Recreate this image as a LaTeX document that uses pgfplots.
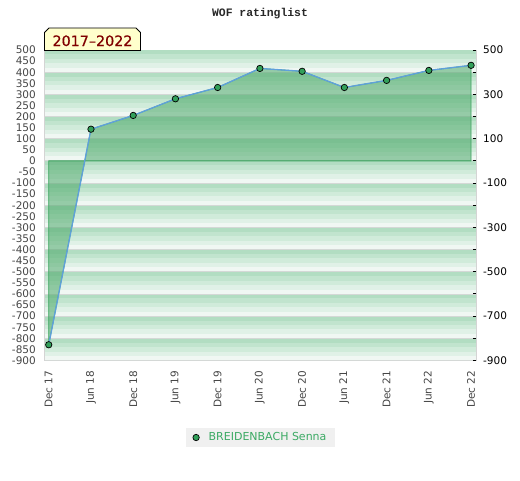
\documentclass[border=0pt]{standalone}
\usepackage{pgfplots}
\pgfplotsset{compat=1.18}
\usepackage{pgfplotstable}
\usepackage{fontspec}
\setmainfont{DejaVu Sans}
\newfontfamily\monofont{Liberation Mono}
\newfontfamily\badgefont{DejaVu Sans}[FakeBold=0.5]
\definecolor{s1}{RGB}{178,221,194}
\definecolor{s2}{RGB}{193,228,206}
\definecolor{s3}{RGB}{208,235,218}
\definecolor{s4}{RGB}{224,241,231}
\definecolor{s5}{RGB}{240,247,243}
\definecolor{bandline}{RGB}{212,216,214}
\definecolor{framegray}{RGB}{212,212,212}
\definecolor{labgray}{RGB}{70,70,70}
\definecolor{areafill}{RGB}{76,168,105}
\definecolor{areaedge}{RGB}{60,165,95}
\definecolor{linecol}{RGB}{95,160,220}
\definecolor{markgreen}{RGB}{50,160,90}
\definecolor{leggreen}{RGB}{60,170,100}
\definecolor{leggray}{RGB}{240,240,240}
\definecolor{badgeyellow}{RGB}{255,255,204}
\definecolor{darkred}{RGB}{128,0,0}
\definecolor{titlegray}{RGB}{40,40,40}
\pgfplotstableread{
x y
0 -829
6 143
12 205
18 280
24 331
30 417
36 404
42 331
48 363
54 408
60 431
}\ratings
\begin{document}
\begin{tikzpicture}[x=1pt,y=1pt]
\path[use as bounding box] (0,0) rectangle (520,-480);
\begin{axis}[
  at={(45pt,-360.5pt)}, anchor=south west, scale only axis,
  width=431pt, height=310.5pt,
  xmin=-0.53, xmax=60.7, ymin=-900, ymax=500,
  axis line style={draw=framegray, line width=1pt},
  xtick={0,6,...,60},
  xticklabels={Dec 17,Jun 18,Dec 18,Jun 19,Dec 19,Jun 20,Dec 20,Jun 21,Dec 21,Jun 22,Dec 22},
  ytick={-900,-850,...,500},
  yticklabel={\pgfmathtruncatemacro\tmp{\tick}\tmp},
  major tick length=0pt,
  xtick pos=bottom, ytick pos=left,
  xticklabel style={font=\fontsize{10.5}{12}\selectfont, text=labgray, inner sep=0pt, rotate=90, anchor=east, xshift=-10pt},
  yticklabel style={font=\fontsize{10.5}{12}\selectfont, text=labgray, inner sep=0pt, anchor=east, xshift=-9pt},
  legend style={at={(0.5,-0.248)}, anchor=center, fill=leggray, draw=none,
    font=\fontsize{11}{13}\selectfont, text=leggreen, inner xsep=7pt, inner ysep=3pt,
    /tikz/every odd column/.append style={column sep=7pt}},
  legend image code/.code={\draw[fill=markgreen, draw=black, line width=0.7pt] (0pt,0pt) circle (3.2pt);},
]
\pgfplotsinvokeforeach{-900,-800,...,400}{
  \fill[s5] (axis cs:-0.53,{#1}) rectangle (axis cs:60.7,{#1+20});
  \fill[s4] (axis cs:-0.53,{#1+20}) rectangle (axis cs:60.7,{#1+40});
  \fill[s3] (axis cs:-0.53,{#1+40}) rectangle (axis cs:60.7,{#1+60});
  \fill[s2] (axis cs:-0.53,{#1+60}) rectangle (axis cs:60.7,{#1+80});
  \fill[s1] (axis cs:-0.53,{#1+80}) rectangle (axis cs:60.7,{#1+100});
  \draw[bandline, line width=0.8pt] (axis cs:-0.53,{#1}) -- (axis cs:60.7,{#1});
}
\addplot[forget plot, draw=areaedge, line width=0.8pt, fill=areafill, fill opacity=0.55] table[x=x,y=y] {\ratings} \closedcycle;
\addplot[linecol, line width=1.3pt, mark=*, mark size=3.2pt,
  mark options={fill=markgreen, draw=black, line width=0.7pt, fill opacity=1}] table[x=x,y=y] {\ratings};
\addlegendentry{BREIDENBACH Senna}
\end{axis}
\begin{axis}[
  at={(45pt,-360.5pt)}, anchor=south west, scale only axis,
  width=431pt, height=310.5pt,
  xmin=-0.53, xmax=60.7, ymin=-900, ymax=500,
  axis x line=none, axis y line*=right,
  y axis line style={draw=none},
  ytick={-900,-800,...,500},
  yticklabels={-900,{},-700,{},-500,{},-300,{},-100,{},100,{},300,{},500},
  tick align=inside, major tick length=3pt,
  major tick style={black, line width=1pt},
  yticklabel style={font=\fontsize{10.5}{12}\selectfont, text=black, inner sep=0pt, anchor=west, xshift=7pt},
]
\addplot[draw=none] coordinates {(0,0)};
\end{axis}
\node[anchor=base, font=\monofont\bfseries\fontsize{11.4}{13}\selectfont, text=titlegray] at (260,-16.7) {WOF ratinglist};
\filldraw[fill=badgeyellow, draw=black, line width=0.8pt] (44.5,-50.5) -- (44.5,-32.5) -- (49,-28) -- (136,-28) -- (140.5,-32.5) -- (140.5,-50.5) -- cycle;
\node[anchor=base, text=darkred, font=\badgefont\fontsize{14.3}{16}\selectfont] at (92.5,-46) {2017–2022};
\end{tikzpicture}
\end{document}
